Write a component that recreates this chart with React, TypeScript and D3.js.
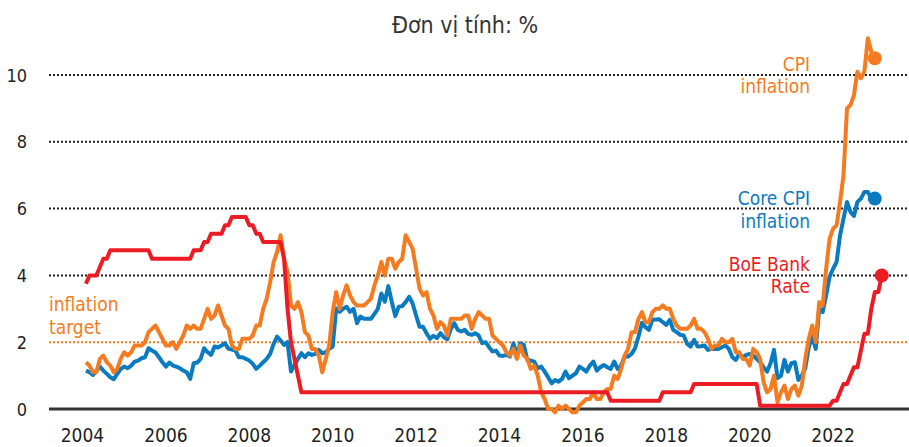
import React from "react";
import * as d3 from "d3";

const START_YEAR = 2004;

// monthly values, Jan 2004 onwards (plotted at month end)
const cpiInflation = [
  1.4, 1.3, 1.1, 1.1, 1.5, 1.6, 1.4, 1.3, 1.1, 1.2, 1.5, 1.7, // 2004
  1.6, 1.7, 1.9, 1.9, 1.9, 2.0, 2.3, 2.4, 2.5, 2.3, 2.1, 1.9, // 2005
  1.9, 2.0, 1.8, 2.0, 2.2, 2.5, 2.4, 2.5, 2.4, 2.4, 2.7, 3.0, // 2006
  2.7, 2.8, 3.1, 2.8, 2.5, 2.4, 1.9, 1.8, 1.8, 2.1, 2.1, 2.1, // 2007
  2.2, 2.5, 2.5, 3.0, 3.3, 3.8, 4.4, 4.7, 5.2, 4.5, 4.1, 3.1, // 2008
  3.0, 3.2, 2.9, 2.3, 2.2, 1.8, 1.8, 1.6, 1.1, 1.5, 1.9, 2.9, // 2009
  3.5, 3.0, 3.4, 3.7, 3.4, 3.2, 3.1, 3.1, 3.1, 3.2, 3.3, 3.7, // 2010
  4.0, 4.4, 4.0, 4.5, 4.5, 4.2, 4.4, 4.5, 5.2, 5.0, 4.8, 4.2, // 2011
  3.6, 3.4, 3.5, 3.0, 2.8, 2.4, 2.6, 2.5, 2.2, 2.7, 2.7, 2.7, // 2012
  2.7, 2.8, 2.8, 2.4, 2.7, 2.9, 2.8, 2.7, 2.7, 2.2, 2.1, 2.0, // 2013
  1.9, 1.7, 1.6, 1.8, 1.5, 1.9, 1.6, 1.5, 1.2, 1.3, 1.0, 0.5, // 2014
  0.3, 0.0, 0.0, -0.1, 0.1, 0.0, 0.1, 0.0, -0.1, -0.1, 0.1, 0.2, // 2015
  0.3, 0.3, 0.5, 0.3, 0.3, 0.5, 0.6, 0.6, 1.0, 0.9, 1.2, 1.6, // 2016
  1.8, 2.3, 2.3, 2.7, 2.9, 2.6, 2.6, 2.9, 3.0, 3.0, 3.1, 3.0, // 2017
  3.0, 2.7, 2.5, 2.4, 2.4, 2.4, 2.5, 2.7, 2.4, 2.4, 2.3, 2.1, // 2018
  1.8, 1.9, 1.9, 2.1, 2.0, 2.0, 2.1, 1.7, 1.7, 1.5, 1.5, 1.3, // 2019
  1.8, 1.7, 1.5, 0.8, 0.5, 0.6, 1.0, 0.2, 0.5, 0.7, 0.3, 0.6, // 2020
  0.7, 0.4, 0.7, 1.5, 2.1, 2.5, 2.0, 3.2, 3.1, 4.2, 5.1, 5.4, // 2021
  5.5, 6.2, 7.0, 9.0, 9.1, 9.4, 10.1, 9.9, 10.1, 11.1, 10.7, 10.5, // 2022
];

const coreInflation = [
  1.15, 1.1, 1.02, 1.15, 1.27, 1.15, 1.05, 0.95, 0.89, 1.05, 1.2, 1.27, // 2004
  1.22, 1.3, 1.42, 1.45, 1.52, 1.55, 1.82, 1.75, 1.69, 1.55, 1.4, 1.27, // 2005
  1.39, 1.3, 1.27, 1.22, 1.15, 1.1, 0.9, 1.37, 1.39, 1.5, 1.82, 1.7, // 2006
  1.62, 1.87, 1.84, 1.9, 1.97, 1.8, 1.78, 1.75, 1.55, 1.55, 1.5, 1.45, // 2007
  1.35, 1.2, 1.3, 1.4, 1.5, 1.65, 1.95, 2.17, 2.05, 1.92, 2.0, 1.12, // 2008
  1.32, 1.5, 1.67, 1.55, 1.67, 1.62, 1.65, 1.77, 1.67, 1.7, 1.8, 1.87, // 2009
  3.01, 2.91, 3.0, 3.06, 2.91, 3.0, 2.57, 2.77, 2.7, 2.7, 2.7, 2.85, // 2010
  3.0, 3.46, 3.21, 3.68, 3.21, 2.78, 3.06, 3.08, 3.2, 3.36, 3.16, 2.8, // 2011
  2.46, 2.46, 2.27, 2.1, 2.19, 2.12, 2.27, 2.15, 2.09, 2.4, 2.57, 2.37, // 2012
  2.32, 2.37, 2.25, 2.22, 2.27, 2.2, 1.97, 2.0, 1.85, 1.72, 1.75, 1.6, // 2013
  1.59, 1.62, 1.57, 1.97, 1.62, 1.97, 1.92, 1.47, 1.45, 1.42, 1.22, 1.27, // 2014
  1.12, 0.95, 0.77, 0.87, 0.82, 0.9, 1.12, 0.92, 1.0, 1.07, 1.27, 1.2, // 2015
  1.12, 1.3, 1.42, 1.15, 1.25, 1.32, 1.25, 1.2, 1.42, 1.2, 1.3, 1.57, // 2016
  1.57, 1.65, 1.82, 2.17, 2.58, 2.45, 2.37, 2.67, 2.68, 2.69, 2.6, 2.52, // 2017
  2.67, 2.37, 2.3, 2.22, 2.2, 1.95, 1.87, 2.07, 1.87, 1.88, 1.9, 1.77, // 2018
  1.8, 1.8, 1.8, 1.85, 1.9, 1.8, 1.55, 1.47, 1.65, 1.55, 1.62, 1.65, // 2019
  1.6, 1.5, 1.4, 1.25, 1.12, 1.37, 1.77, 0.92, 1.0, 1.47, 1.12, 1.37, // 2020
  1.4, 0.87, 1.0, 1.22, 1.85, 2.17, 1.8, 3.0, 2.9, 3.4, 3.96, 4.2, // 2021
  4.4, 5.2, 5.7, 6.2, 5.9, 5.78, 6.2, 6.3, 6.5, 6.5, 6.3, 6.3, // 2022
];

const bankRate = [
  3.75, 4.0, 4.0, 4.0, 4.25, 4.5, 4.5, 4.75, 4.75, 4.75, 4.75, 4.75, // 2004
  4.75, 4.75, 4.75, 4.75, 4.75, 4.75, 4.75, 4.5, 4.5, 4.5, 4.5, 4.5, // 2005
  4.5, 4.5, 4.5, 4.5, 4.5, 4.5, 4.5, 4.75, 4.75, 4.75, 5.0, 5.0, // 2006
  5.25, 5.25, 5.25, 5.25, 5.5, 5.5, 5.75, 5.75, 5.75, 5.75, 5.75, 5.5, // 2007
  5.5, 5.25, 5.25, 5.0, 5.0, 5.0, 5.0, 5.0, 5.0, 4.5, 3.0, 2.0, // 2008
  1.5, 1.0, 0.5, 0.5, 0.5, 0.5, 0.5, 0.5, 0.5, 0.5, 0.5, 0.5, // 2009
  0.5, 0.5, 0.5, 0.5, 0.5, 0.5, 0.5, 0.5, 0.5, 0.5, 0.5, 0.5, // 2010
  0.5, 0.5, 0.5, 0.5, 0.5, 0.5, 0.5, 0.5, 0.5, 0.5, 0.5, 0.5, // 2011
  0.5, 0.5, 0.5, 0.5, 0.5, 0.5, 0.5, 0.5, 0.5, 0.5, 0.5, 0.5, // 2012
  0.5, 0.5, 0.5, 0.5, 0.5, 0.5, 0.5, 0.5, 0.5, 0.5, 0.5, 0.5, // 2013
  0.5, 0.5, 0.5, 0.5, 0.5, 0.5, 0.5, 0.5, 0.5, 0.5, 0.5, 0.5, // 2014
  0.5, 0.5, 0.5, 0.5, 0.5, 0.5, 0.5, 0.5, 0.5, 0.5, 0.5, 0.5, // 2015
  0.5, 0.5, 0.5, 0.5, 0.5, 0.5, 0.5, 0.25, 0.25, 0.25, 0.25, 0.25, // 2016
  0.25, 0.25, 0.25, 0.25, 0.25, 0.25, 0.25, 0.25, 0.25, 0.25, 0.5, 0.5, // 2017
  0.5, 0.5, 0.5, 0.5, 0.5, 0.5, 0.5, 0.75, 0.75, 0.75, 0.75, 0.75, // 2018
  0.75, 0.75, 0.75, 0.75, 0.75, 0.75, 0.75, 0.75, 0.75, 0.75, 0.75, 0.75, // 2019
  0.75, 0.75, 0.1, 0.1, 0.1, 0.1, 0.1, 0.1, 0.1, 0.1, 0.1, 0.1, // 2020
  0.1, 0.1, 0.1, 0.1, 0.1, 0.1, 0.1, 0.1, 0.1, 0.1, 0.1, 0.25, // 2021
  0.25, 0.5, 0.75, 0.75, 1.0, 1.25, 1.25, 1.75, 2.25, 2.25, 3.0, 3.5, // 2022
  3.5, 4.0, // 2023
];

const yTicks = [0, 2, 4, 6, 8, 10];
const xTickYears = [2004, 2006, 2008, 2010, 2012, 2014, 2016, 2018, 2020, 2022];
const inflationTarget = 2;

const ORANGE = "#f47b20";
const BLUE = "#0a7bc1";
const RED = "#ec1c24";
const INK = "#231f20";
const FONT = "'DejaVu Sans Condensed', 'Liberation Sans Narrow', Roboto, sans-serif";

const W = 909;
const H = 447;

const x = d3.scaleLinear().domain([2004, 2023]).range([82.5, 874.8]);
const y = d3.scaleLinear().domain([0, 10]).range([409, 75]);

const toPoints = (vals: number[]) =>
  vals.map((v, i) => ({ date: START_YEAR + (i + 1) / 12, value: v }));

const line = d3
  .line<{ date: number; value: number }>()
  .x((d) => x(d.date))
  .y((d) => y(d.value));

const series = [
  { key: "core", values: toPoints(coreInflation), color: BLUE },
  { key: "cpi", values: toPoints(cpiInflation), color: ORANGE },
  { key: "rate", values: toPoints(bankRate), color: RED },
];

const labels = [
  { lines: ["CPI", "inflation"], color: ORANGE, x: 810, y: 70.5, anchor: "end" },
  { lines: ["Core CPI", "inflation"], color: BLUE, x: 810, y: 205, anchor: "end" },
  { lines: ["BoE Bank", "Rate"], color: RED, x: 810, y: 270.5, anchor: "end" },
  { lines: ["inflation", "target"], color: ORANGE, x: 49, y: 311, anchor: "start" },
];

export default function App() {
  const gridX0 = 49;
  const gridX1 = W;

  return (
    <>
      <style>{`body{margin:0}`}</style>
      <svg width={W} height={H} style={{ display: "block", background: "#fff" }} fontFamily={FONT}>
        <text x={465} y={33} textAnchor="middle" fontSize={23} fill="#333">
          Đơn vị tính: %
        </text>

        {/* gridlines */}
        {yTicks.filter((t) => t > 0).map((t) => (
          <line
            key={t}
            x1={gridX0}
            x2={gridX1}
            y1={y(t)}
            y2={y(t)}
            stroke={t === inflationTarget ? ORANGE : INK}
            strokeWidth={2}
            strokeDasharray="2 2"
          />
        ))}
        <line x1={gridX0} x2={gridX1} y1={y(0)} y2={y(0)} stroke="#333" strokeWidth={3} />

        {yTicks.map((t) => (
          <text key={t} x={27} y={y(t) + 6.5} textAnchor="end" fontSize={18} fill={INK}>
            {t}
          </text>
        ))}

        {xTickYears.map((yr) => (
          <text key={yr} x={x(yr)} y={442} textAnchor="middle" fontSize={19} fill={INK}>
            {yr}
          </text>
        ))}

        {series.map((s) => (
          <path
            key={s.key}
            d={line(s.values) || ""}
            fill="none"
            stroke={s.color}
            strokeWidth={4}
            strokeLinejoin="round"
          />
        ))}

        {series.map((s) => {
          const last = s.values[s.values.length - 1];
          return <circle key={s.key} cx={x(last.date)} cy={y(last.value)} r={7} fill={s.color} />;
        })}

        {labels.map((l) => (
          <text key={l.lines[0]} x={l.x} y={l.y} textAnchor={l.anchor} fontSize={19} fill={l.color}>
            {l.lines.map((t, i) => (
              <tspan key={i} x={l.x} dy={i === 0 ? 0 : 22.5}>
                {t}
              </tspan>
            ))}
          </text>
        ))}
      </svg>
    </>
  );
}
